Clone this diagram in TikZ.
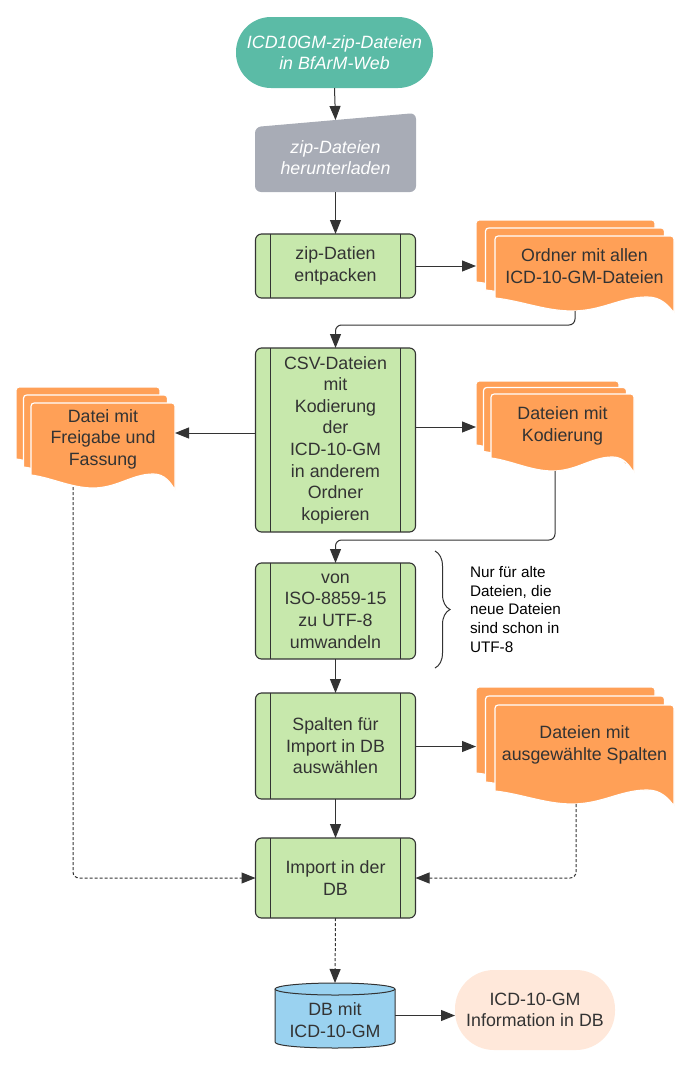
\documentclass[tikz,border=0pt]{standalone}
\usepackage{fontspec}
\setmainfont{Liberation Sans}
\usetikzlibrary{arrows.meta,calc,decorations.pathreplacing}
\definecolor{tealc}{HTML}{5BBBA6}
\definecolor{grayc}{HTML}{A8ACB6}
\definecolor{greenc}{HTML}{C7E8AC}
\definecolor{orangec}{HTML}{FFA057}
\definecolor{bluec}{HTML}{9AD2F0}
\definecolor{peachc}{HTML}{FFE8DA}
\definecolor{linec}{HTML}{333333}
\definecolor{txtc}{HTML}{333333}
\newcommand\docsheet[4]{%
\filldraw[docsheet] (#1,#4-15) -- (#1,#2+7) .. controls (#1,#2) .. (#1+7,#2) -- (#1+#3-7,#2) .. controls (#1+#3,#2) .. (#1+#3,#2+7) -- (#1+#3,#4) .. controls (#1+0.97*#3,#4-7) and (#1+0.93*#3,#4-16) .. (#1+0.85*#3,#4-16) .. controls (#1+0.7*#3,#4-16) and (#1+0.6*#3,#4-2) .. (#1+0.43*#3,#4-2) .. controls (#1+0.28*#3,#4-2) and (#1+0.15*#3,#4-12) .. (#1,#4-15) -- cycle;}
\newcommand\docstack[6]{%
\docsheet{#1-2*#5}{#2-2*#6}{#3}{#4-2*#6}%
\docsheet{#1-#5}{#2-#6}{#3}{#4-#6}%
\docsheet{#1}{#2}{#3}{#4}}
\begin{document}
\begin{tikzpicture}[x=1pt,y=-1pt,
 every node/.style={inner sep=0pt, outer sep=0pt},
 txt/.style={font=\fontsize{17.8}{21.6}\selectfont, text=txtc, align=center},
 ittxt/.style={font=\fontsize{17.8}{21}\selectfont\itshape, text=white, align=center},
 proc/.style={txt, draw=linec, line width=1.1pt, fill=greenc, rounded corners=6pt, minimum width=160pt,
   path picture={\draw[linec, line width=1pt]
     ([xshift=15pt]path picture bounding box.north west) -- ([xshift=15pt]path picture bounding box.south west)
     ([xshift=-15pt]path picture bounding box.north east) -- ([xshift=-15pt]path picture bounding box.south east);}},
 frame/.style={draw=none, fill=none, rectangle},
 arr/.style={draw=linec, line width=1pt, -{Triangle[length=14pt,width=11pt]}},
 dotarr/.style={arr, dash pattern=on 3pt off 2pt},
 docsheet/.style={fill=orangec, draw=white, line width=1.2pt},
]
\useasboundingbox (0,0) rectangle (693,1068);

% start terminal
\node[ittxt, fill=tealc, rounded corners=35pt, minimum width=197pt, minimum height=71pt] (start) at (334.5,52.5) {ICD10GM-zip-Dateien\\in BfArM-Web};

% manual input
\filldraw[fill=grayc, draw=none, rounded corners=6pt] (255,127) -- (416,113) -- (416,192) -- (255,192) -- cycle;
\node[frame, minimum width=161pt, minimum height=79pt] (dl) at (335.5,152.5) {};
\node[ittxt] (dlT) at (335.5,158) {zip-Dateien\\herunterladen};
\coordinate (dlin) at (335.5,120);

% processes
\node[proc, minimum height=64pt] (unzip) at (335.5,266) {zip-Datien\\entpacken};
\node[proc, minimum height=184pt] (csv) at (335.5,440) {CSV-Dateien\\mit\\Kodierung\\der\\ICD-10-GM\\in anderem\\Ordner\\kopieren};
\node[proc, minimum height=96pt] (iso) at (335.5,611) {von\\ISO-8859-15\\zu UTF-8\\umwandeln};
\node[proc, minimum height=106pt] (spalten) at (335.5,746) {Spalten für\\Import in DB\\auswählen};
\node[proc, minimum height=80pt] (import) at (335.5,878) {Import in der\\DB};

% document stacks
\docstack{495}{236}{179}{313}{9.5}{8}
\node[frame, minimum width=198pt, minimum height=93pt] (ordner) at (575,266.5) {};
\node[txt] (ordnerT) at (584.5,266) {Ordner mit allen\\ICD-10-GM-Dateien};
\coordinate (aout) at (575,311);

\docstack{491}{394}{143}{473}{7.5}{6.5}
\node[frame, minimum width=158pt, minimum height=92pt] (kod) at (555,427) {};
\node[txt] (kodT) at (562.5,426) {Dateien mit\\Kodierung};
\coordinate (bout) at (555,471);

\docstack{31}{403}{144}{490}{7.5}{8}
\node[frame, minimum width=159pt, minimum height=92pt] (freig) at (95.5,433) {};
\node[txt] (freigT) at (103,439) {Datei mit\\Freigabe und\\Fassung};
\coordinate (cout) at (73,487);

\docstack{495}{705}{179}{806}{9.5}{9}
\node[frame, minimum width=198pt, minimum height=119pt] (ausg) at (575,746.5) {};
\node[txt] (ausgT) at (584.5,745) {Dateien mit\\ausgewählte Spalten};
\coordinate (dout) at (576,804);

% database
\filldraw[fill=bluec, draw=linec, line width=1pt] (275,989) -- (275,1042) .. controls (275,1050) and (395,1050) .. (395,1042) -- (395,989);
\filldraw[fill=bluec, draw=linec, line width=1pt] (335,989) ellipse [x radius=60, y radius=6];
\node[frame, minimum width=120pt, minimum height=65pt] (db) at (335,1015.5) {};
\node[txt] (dbT) at (335,1020) {DB mit\\ICD-10-GM};

% result terminal
\node[txt, fill=peachc, rounded corners=39pt, minimum width=160pt, minimum height=80pt] (info) at (535,1010) {ICD-10-GM\\Information in DB};

% note with brace
\node[font=\fontsize{15.3}{18.7}\selectfont, text=black, align=left, anchor=west] (note) at (470,609.5) {Nur für alte\\Dateien, die\\neue Dateien\\sind schon in\\UTF-8};
\coordinate (brt) at (435,551);
\coordinate (brb) at (435,668);
\draw[linec, line width=1pt, decorate, decoration={brace, amplitude=15pt}] (brt) -- (brb);

% connectors
\draw[arr] (start.south) -- (dlin);
\draw[arr] (dl.south) -- (unzip.north);
\draw[arr] (unzip.east) -- (unzip.east -| ordner.west);
\coordinate (amid) at ($(csv.north)+(0,-23)$);
\draw[arr, rounded corners=6pt] (aout) -- (aout |- amid) -- (amid) -- (csv.north);
\draw[arr] (csv.west |- freig.east) -- (freig.east);
\draw[arr] (csv.east |- kod.west) -- (kod.west);
\coordinate (bmid) at ($(iso.north)+(0,-23)$);
\draw[arr, rounded corners=6pt] (bout) -- (bout |- bmid) -- (bmid) -- (iso.north);
\draw[arr] (iso.south) -- (spalten.north);
\draw[arr] (spalten.east |- ausg.west) -- (ausg.west);
\draw[arr] (spalten.south) -- (import.north);
\draw[dotarr, rounded corners=6pt] (cout) |- (import.west);
\draw[dotarr, rounded corners=6pt] (dout) |- (import.east);
\draw[dotarr] (import.south) -- (db.north);
\draw[arr] (db.east) -- (db.east -| info.west);
\end{tikzpicture}
\end{document}
